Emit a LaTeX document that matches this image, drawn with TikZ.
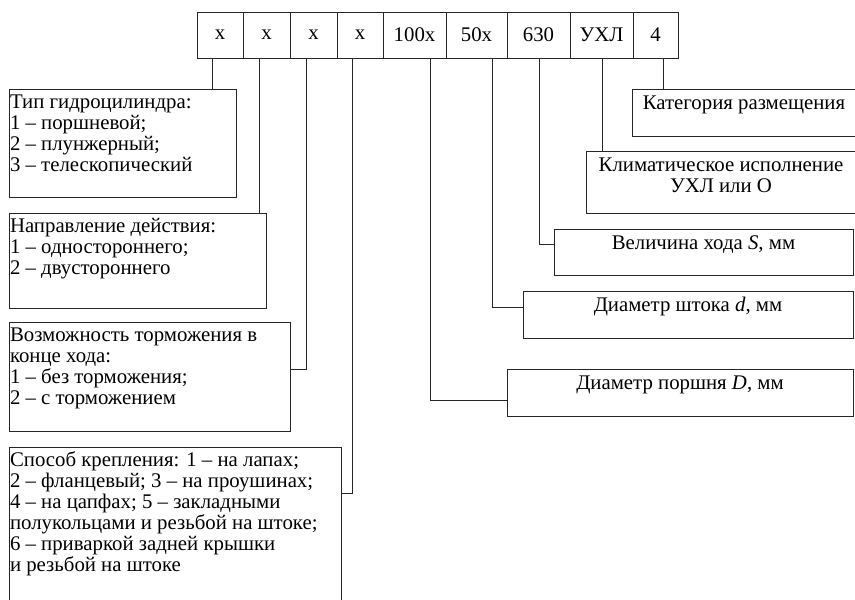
\documentclass[tikz,border=0pt]{standalone}
\usepackage{fontspec}
\setmainfont{Liberation Serif}
\usetikzlibrary{positioning, calc}
\newcommand{\desctext}[3]{\parbox[t][#1][t]{#2}{\raggedright\rule{0pt}{19pt}#3}}
\newcommand{\desccentre}[3]{\parbox[t][#1][t]{#2}{\centering\rule{0pt}{20pt}#3}}

\begin{document}
\begin{tikzpicture}[
  x=1pt, y=-1pt,
  font=\fontsize{20.8}{21}\selectfont,
  cell/.style={
    rectangle, draw=black!85, line width=1pt,
    minimum height=46pt, inner sep=0pt, outer sep=0pt
  },
  descbox/.style={
    rectangle, draw=black!85, line width=1pt,
    inner xsep=1pt, inner ysep=0pt, outer sep=0pt, anchor=north west
  },
  link/.style={draw=black!85, line width=1pt},
  node distance=0pt
]
\useasboundingbox (0,0) rectangle (855,600);
% code cells
\node[cell, minimum width=46pt, anchor=north west] (c1) at (197,12) {x};
\node[cell, minimum width=47pt, right=of c1] (c2) {x};
\node[cell, minimum width=47pt, right=of c2] (c3) {x};
\node[cell, minimum width=46pt, right=of c3] (c4) {x};
\node[cell, minimum width=63pt, right=of c4] (c5) {100x};
\node[cell, minimum width=61pt, right=of c5] (c6) {50x};
\node[cell, minimum width=63pt, right=of c6] (c7) {630};
\node[cell, minimum width=63pt, right=of c7] (c8) {УХЛ};
\node[cell, minimum width=45pt, right=of c8] (c9) {4};
% left descriptions
\node[descbox] (b1) at (9,89)
  {\desctext{108pt}{225pt}{Тип гидроцилиндра:\\1 – поршневой;\\2 – плунжерный;\\3 – телескопический}};
\node[descbox] (b2) at (9,213)
  {\desctext{95pt}{255pt}{Направление действия:\\1 – одностороннего;\\2 – двустороннего}};
\node[descbox] (b3) at (9,322)
  {\desctext{109pt}{279pt}{Возможность торможения в\\конце хода:\\1 – без торможения;\\2 – с торможением}};
\node[descbox] (b4) at (9,447)
  {\desctext{165pt}{330pt}{Способ крепления: 1 – на лапах;\\2 – фланцевый; 3 – на проушинах;\\4 – на цапфах; 5 – закладными\\полукольцами и резьбой на штоке;\\6 – приваркой задней крышки\\и резьбой на штоке}};
% right descriptions
\node[descbox] (r1) at (632,89)
  {\desccentre{47pt}{222pt}{Категория размещения}};
\node[descbox] (r2) at (586,151)
  {\desccentre{62pt}{268pt}{Климатическое исполнение\\УХЛ или О}};
\node[descbox] (r3) at (554,229)
  {\desccentre{46pt}{297pt}{Величина хода \textit{S}, мм}};
\node[descbox] (r4) at (523,291)
  {\desccentre{47pt}{328pt}{Диаметр штока \textit{d}, мм}};
\node[descbox] (r5) at (507,369)
  {\desccentre{47pt}{344pt}{Диаметр поршня \textit{D}, мм}};
% connectors
\foreach \c/\b/\dx in {c1/b1/15, c2/b2/16, c8/r2/32, c9/r1/30}
  \draw[link] ([xshift=\dx pt]\c.south west) coordinate (t) -- (t |- \b.north);
\foreach \c/\b/\a/\dx/\dy in {c3/b3/north east/16/47, c4/b4/north east/15/46,
    c5/r5/north west/47/31, c6/r4/north west/46/16, c7/r3/north west/32/15}
  \draw[link] ([xshift=\dx pt]\c.south west) |- ([yshift=-\dy pt]\b.\a);
\end{tikzpicture}
\end{document}
